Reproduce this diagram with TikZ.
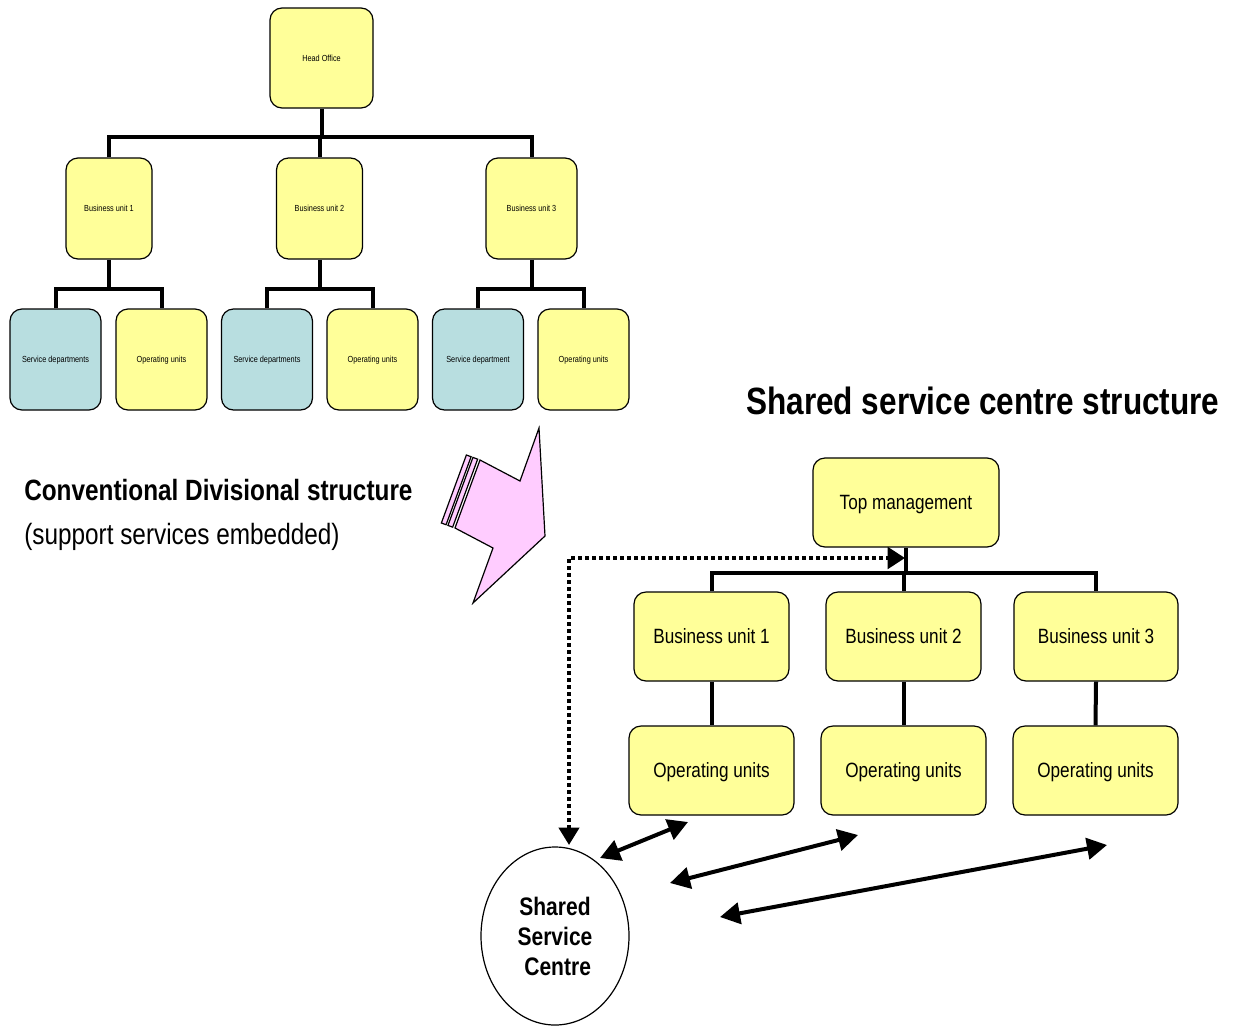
\documentclass[tikz,border=0pt]{standalone}
\usepackage{fontspec}
\setmainfont{Liberation Sans}[FakeStretch=0.83]
\usetikzlibrary{arrows.meta,calc,shapes.geometric}
\definecolor{boxyellow}{RGB}{255,255,153}
\definecolor{boxblue}{RGB}{184,222,224}
\definecolor{arrowpink}{RGB}{255,204,255}
\begin{document}
\begin{tikzpicture}[x=0.75pt,y=-0.75pt,
  box/.style={draw=black,line width=0.9pt,rounded corners=9pt,align=center,inner sep=0pt,text depth=0pt},
  ybox/.style={box,fill=boxyellow},
  bbox/.style={box,fill=boxblue},
  tinytext/.style={font=\fontsize{6.6}{7.5}\selectfont},
  bigtext/.style={font=\fontsize{15.5}{18}\selectfont},
  smallbox/.style={minimum width=64.5pt,minimum height=75.75pt},
  lowbox/.style={minimum width=68.25pt,minimum height=75.75pt},
  rbubox/.style={minimum width=116.25pt,minimum height=66.75pt},
  roubox/.style={minimum width=123.75pt,minimum height=66.75pt},
  conn/.style={line width=3pt},
  dotconn/.style={line width=3pt,dash pattern=on 3pt off 2.25pt,
     {Triangle[length=13pt,width=15pt]}-{Triangle[length=13pt,width=16pt]}},
  dblarrow/.style={line width=3pt,
     {Triangle[length=15pt,width=16pt]}-{Triangle[length=15pt,width=16pt]}},
  pinkshape/.style={draw=black,line width=0.9pt,fill=arrowpink,line join=miter}
]
\useasboundingbox (0,0) rectangle (1235,1025);

% ---------------- Conventional divisional structure ----------------
\node[ybox,tinytext,minimum width=77.25pt,minimum height=75pt] (ho) at (321.5,58) {Head Office};
\node[ybox,tinytext,smallbox] (bu1) at (109,208.5) {Business unit 1};
\node[ybox,tinytext,smallbox] (bu2) at (319.5,208.5) {Business unit 2};
\node[ybox,tinytext,minimum width=68.25pt,minimum height=75.75pt] (bu3) at (531.5,208.5) {Business unit 3};

\node[bbox,tinytext,lowbox] (sd1) at (55.5,359.5) {Service departments};
\node[ybox,tinytext,lowbox] (ou1) at (161.5,359.5) {Operating units};
\node[bbox,tinytext,lowbox] (sd2) at (267,359.5) {Service departments};
\node[ybox,tinytext,lowbox] (ou2) at (372.5,359.5) {Operating units};
\node[bbox,tinytext,lowbox] (sd3) at (478,359.5) {Service department};
\node[ybox,tinytext,lowbox] (ou3) at (583.5,359.5) {Operating units};

\coordinate (hbar) at (321.5,137);
\draw[conn] (ho.south) -- (hbar);
\draw[conn] (bu1.north) |- (hbar) -| (bu3.north);
\draw[conn] (bu2.north) -- (bu2.north |- hbar);

\coordinate (b1bar) at (109,289);
\coordinate (b2bar) at (319.5,289);
\coordinate (b3bar) at (531.5,289);
\draw[conn] (bu1.south) -- (b1bar);
\draw[conn] (sd1.north) |- (b1bar) -| (ou1.north);
\draw[conn] (bu2.south) -- (b2bar);
\draw[conn] (sd2.north) |- (b2bar) -| (ou2.north);
\draw[conn] (bu3.south) -- (b3bar);
\draw[conn] (sd3.north) |- (b3bar) -| (ou3.north);

\node[anchor=base west,inner sep=0pt,font=\bfseries\fontsize{22}{26}\selectfont] (convtitle) at (24,500) {Conventional Divisional structure};
\node[anchor=base west,inner sep=0pt,font=\fontsize{22}{26}\selectfont] (convsub) at (24,544) {(support services embedded)};

% ---------------- Pink transition arrow ----------------
\draw[pinkshape] (539,428) -- (545,536) -- (473,603) -- (493,548) -- (455,528) -- (480,460) -- (520,481) -- cycle;
\draw[pinkshape] (477.65,459.14) -- (472.96,457.41) -- (447.96,525.41) -- (452.65,527.14) -- cycle;
\draw[pinkshape] (471.08,456.72) -- (466.38,455.0) -- (441.38,523.0) -- (446.08,524.72) -- cycle;

% ---------------- Shared service centre structure ----------------
\node[anchor=base west,inner sep=0pt,font=\bfseries\fontsize{28.5}{32}\selectfont] (sstitle) at (746,414) {Shared service centre structure};

\node[ybox,bigtext,minimum width=139.5pt,minimum height=66.75pt] (tm) at (906,502.5) {Top management};
\node[ybox,bigtext,rbubox] (rbu1) at (711.5,636.5) {Business unit 1};
\node[ybox,bigtext,rbubox] (rbu2) at (903.5,636.5) {Business unit 2};
\node[ybox,bigtext,minimum width=123pt,minimum height=66.75pt] (rbu3) at (1096,636.5) {Business unit 3};
\node[ybox,bigtext,roubox] (rou1) at (711.5,770.5) {Operating units};
\node[ybox,bigtext,roubox] (rou2) at (903.5,770.5) {Operating units};
\node[ybox,bigtext,roubox] (rou3) at (1095.5,770.5) {Operating units};

\coordinate (tmbar) at (906,573);
\draw[conn] (tm.south) -- (tmbar);
\draw[conn] (rbu1.north) |- (tmbar) -| (rbu3.north);
\draw[conn] (rbu2.north) -- (rbu2.north |- tmbar);
\draw[conn] (rbu1.south) -- (rou1.north);
\draw[conn] (rbu2.south) -- (rou2.north);
\draw[conn] (rbu3.south) -- (rou3.north);

\node[ellipse,draw=black,line width=0.9pt,fill=white,minimum width=111pt,minimum height=133.5pt,inner sep=0pt,align=center,
      font=\bfseries\fontsize{19}{22.5}\selectfont] (ssc) at (555,936) {Shared\\Service\\\hspace{4pt}Centre};

\coordinate (dotstart) at (569,845);
\coordinate (dotend) at (905,558);
\draw[dotconn] (dotstart) |- (dotend);

\coordinate (a1s) at (600,858);
\coordinate (a1e) at (688,822);
\coordinate (a2s) at (670,883);
\coordinate (a2e) at (858,835);
\coordinate (a3s) at (720,917);
\coordinate (a3e) at (1107,845);
\draw[dblarrow] (a1s) -- (a1e);
\draw[dblarrow] (a2s) -- (a2e);
\draw[dblarrow] (a3s) -- (a3e);
\end{tikzpicture}
\end{document}
